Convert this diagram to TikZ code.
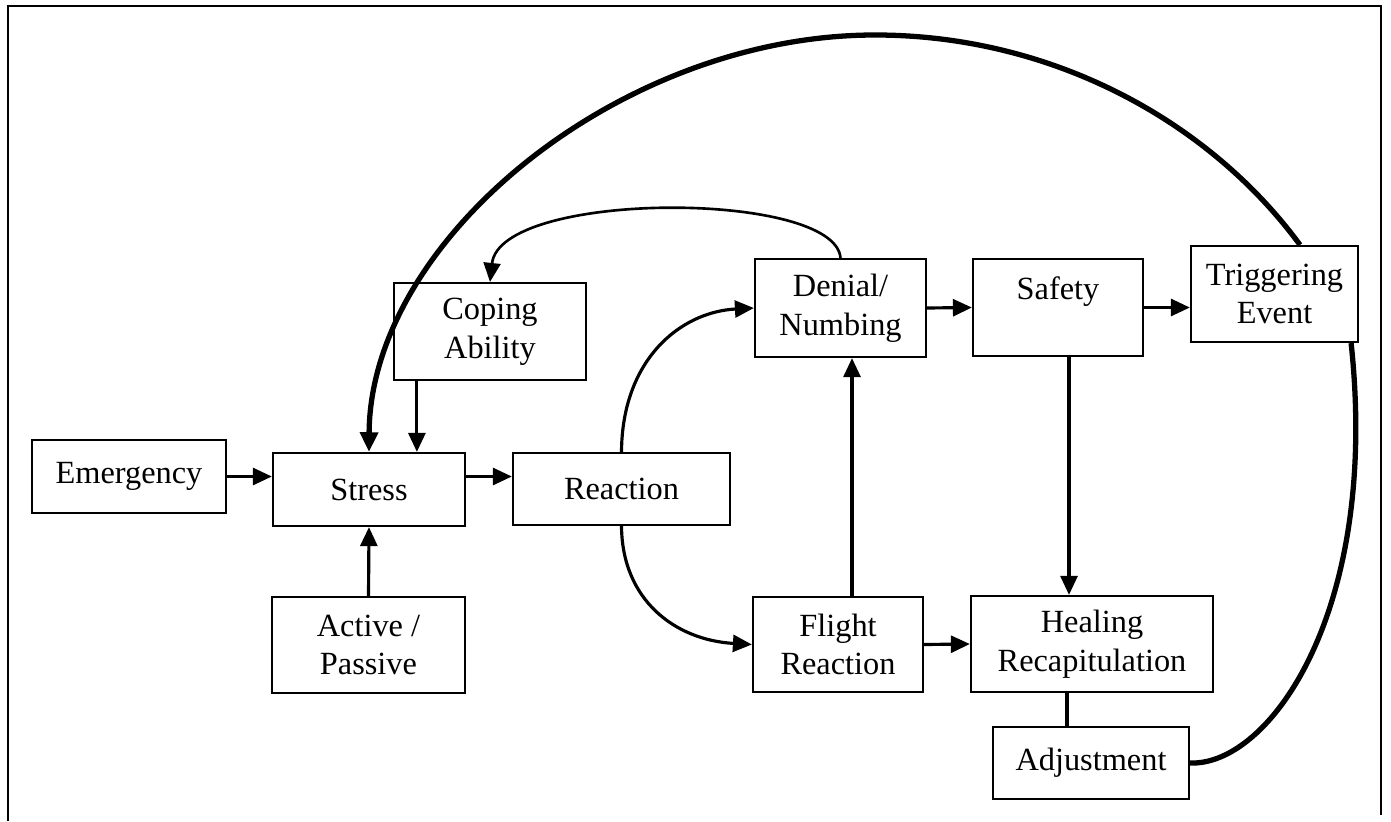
\documentclass[tikz,border=0pt]{standalone}
\usepackage{fontspec}
\setmainfont{Liberation Serif}
\usetikzlibrary{arrows.meta}
\tikzset{
  %% ── Boxes ────────────────────────────────────────────────────────────
  bloc/.style      = {draw=black, line width=0.6pt, align=center,
                      inner sep=3pt},
  %%
  %% ── Lines and arrows ─────────────────────────────────────────────────
  fleche/.style    = {-{Triangle[length=5.4pt, width=4.8pt]}, draw=black,
                      line width=0.9pt},
  flecheArc/.style = {-{Triangle[length=5.4pt, width=4.8pt]}, draw=black,
                      line width=0.75pt},
  arcEpais/.style  = {draw=black, line width=1.5pt},
  trait/.style     = {draw=black, line width=0.9pt},
  cadre/.style     = {draw=black, line width=0.6pt},
}

\begin{document}
\begin{tikzpicture}[x=0.01cm, y=-0.01cm, font=\fontsize{9.2}{11}\selectfont]
\useasboundingbox (0,0) rectangle (1391,821);

%% page frame, open at the bottom
\draw[cadre] (8,821) -- (8,6) -- (1381,6) -- (1381,815);

\node[bloc, minimum width=1.94cm, minimum height=0.73cm] (emergency) at (129,476.5)
     {Emergency};
\node[bloc, minimum width=1.92cm, minimum height=0.73cm] (stress) at (369,489.5)
     {Stress};
\node[bloc, minimum width=1.92cm, minimum height=0.97cm] (coping) at (490,331.5)
     {Coping\\Ability};
\node[bloc, minimum width=2.17cm, minimum height=0.72cm] (reaction) at (621.5,489)
     {Reaction};
\node[bloc, minimum width=1.93cm, minimum height=0.96cm] (active) at (368.5,645)
     {Active /\\Passive};

\node[bloc, minimum width=1.71cm, minimum height=0.98cm] (denial) at (840.5,308)
     {Denial/\\Numbing};
\node[bloc, minimum width=1.70cm, minimum height=0.95cm] (flight) at (838,644.5)
     {Flight\\Reaction};
\node[bloc, minimum width=1.70cm, minimum height=0.97cm] (safety) at (1058,307.5)
     {Safety\\\mbox{}};
\node[bloc, minimum width=1.67cm, minimum height=0.96cm] (trigger) at (1274.5,294)
     {Triggering\\Event};
\node[bloc, minimum width=2.42cm, minimum height=0.96cm] (healing) at (1092,644)
     {Healing\\Recapitulation};
\node[bloc, minimum width=1.96cm, minimum height=0.72cm] (adjust) at (1091,763)
     {Adjustment};

\coordinate (sommet) at (875,35);

\draw[fleche] (emergency.east) -- (stress.west |- emergency.east);
\draw[fleche] (stress.east |- emergency.east) -- (reaction.west |- emergency.east);
\draw[fleche] ([xshift=0.24cm]coping.south west) -- ([xshift=0.24cm]coping.south west |- stress.north);
\draw[fleche] (active.north) -- (stress.south);
\draw[fleche] (reaction.north) .. controls (622,360) and (680,312) .. (denial.west);
\draw[fleche] (reaction.south) .. controls (622,600) and (675,640) .. (flight.west);
\draw[fleche] ([xshift=0.14cm]flight.north) -- ([xshift=0.14cm]flight.north |- denial.south);
\draw[fleche] (denial.east) -- (safety.west);
\draw[fleche] (safety.east) -- (trigger.west |- safety.east);
\draw[fleche] ([xshift=0.11cm]safety.south) -- ([xshift=0.11cm]safety.south |- healing.north);
\draw[fleche] (flight.east) -- (healing.west);
\draw[trait] ([xshift=-0.25cm]healing.south) -- ([xshift=-0.25cm]healing.south |- adjust.north);

\draw[flecheArc] (denial.north) .. controls (835,190) and (500,190) .. (coping.north);

%% the long loop: adjustment, triggering event, back to stress
\draw[arcEpais] (adjust.east) .. controls (1269,766) and (1380,612) .. ([xshift=-0.08cm]trigger.south east);
\draw[arcEpais, -{Triangle[length=5.6pt, width=5pt]}] ([xshift=0.255cm]trigger.north)
     .. controls (1209,121) and (1052,35) .. (sommet)
     .. controls (620,35) and (370,240) .. (stress.north);

\end{tikzpicture}
\end{document}
